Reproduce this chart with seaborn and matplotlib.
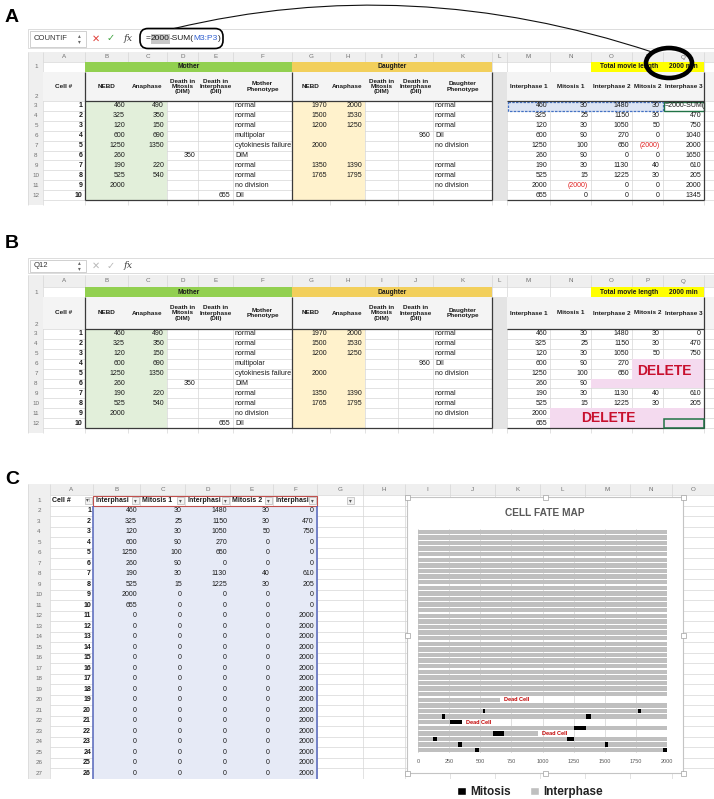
import matplotlib
matplotlib.use('Agg')
import matplotlib.pyplot as plt
import numpy as np
import pandas as pd
import seaborn as sns
from matplotlib.patches import Rectangle, FancyBboxPatch, Ellipse, PathPatch, Patch
from matplotlib.path import Path

# ---------------------------------------------------------------- data
cell_ids = [1, 2, 3, 4, 5, 6, 7, 8, 9, 10]
mother_nebd = [460, 325, 120, 600, 1250, 260, 190, 525, 2000, None]
mother_anaphase = [490, 350, 150, 690, 1350, None, 220, 540, None, None]
mother_dim = [None, None, None, None, None, 350, None, None, None, None]
mother_dii = [None, None, None, None, None, None, None, None, None, 655]
mother_phenotype = ["normal", "normal", "normal", "multipolar", "cytokinesis failure",
                    "DIM", "normal", "normal", "no division", "DII"]
daughter_nebd = [1970, 1500, 1200, None, 2000, None, 1350, 1765, None, None]
daughter_anaphase = [2000, 1530, 1250, None, None, None, 1390, 1795, None, None]
daughter_dim = [None] * 10
daughter_dii = [None, None, None, 960, None, None, None, None, None, None]
daughter_phenotype = ["normal", "normal", "normal", "DII", "no division", "",
                      "normal", "normal", "no division", ""]

# panel A: interval columns (as shown while editing)
a_interphase1 = ["460", "325", "120", "600", "1250", "260", "190", "525", "2000", "655"]
a_mitosis1 = ["30", "25", "30", "90", "100", "90", "30", "15", "(2000)", "0"]
a_interphase2 = ["1480", "1150", "1050", "270", "650", "0", "1130", "1225", "0", "0"]
a_mitosis2 = ["30", "30", "50", "0", "(2000)", "0", "40", "30", "0", "0"]
a_interphase3 = ["=2000-SUM(", "470", "750", "1040", "2000", "1650", "610", "205", "2000", "1345"]

# panel B: cleaned interval columns
b_interphase1 = ["460", "325", "120", "600", "1250", "260", "190", "525", "2000", "655"]
b_mitosis1 = ["30", "25", "30", "90", "100", "90", "30", "15", "", ""]
b_interphase2 = ["1480", "1150", "1050", "270", "650", "", "1130", "1225", "", ""]
b_mitosis2 = ["30", "30", "50", "", "", "", "40", "30", "", ""]
b_interphase3 = ["0", "470", "750", "", "", "", "610", "205", "", ""]

# panel C: table + cell fate map (40 cells)
chart_cells = list(range(1, 41))
interphase1 = [460, 325, 120, 600, 1250, 260, 190, 525, 2000, 655] + [0] * 30
mitosis1 = [30, 25, 30, 90, 100, 90, 30, 15, 0, 0] + [0] * 30
interphase2 = [1480, 1150, 1050, 270, 650, 0, 1130, 1225, 0, 0] + [0] * 30
mitosis2 = [30, 30, 50, 0, 0, 0, 40, 30, 0, 0] + [0] * 30
interphase3 = [0, 470, 750, 0, 0, 0, 610, 205, 0, 0] + [2000] * 30
dead_cells = [4, 6, 10]
x_ticks = [0, 250, 500, 750, 1000, 1250, 1500, 1750, 2000]

GREY = "#BFBFBF"
BLACK = "#000000"

# ---------------------------------------------------------------- figure
sns.set_theme(style="white")
plt.rcParams['font.family'] = ['Liberation Sans', 'DejaVu Sans']

fig = plt.figure(figsize=(7.14, 7.99), dpi=100)
bg = fig.add_axes([0, 0, 1, 1])
bg.set_xlim(0, 714)
bg.set_ylim(799, 0)
bg.axis('off')
renderer = fig.canvas.get_renderer()


def T(x, y, s, size=5, ha='center', va='center', weight='normal', color='#1A1A1A', z=6, **kw):
    return bg.text(x, y, s, fontsize=size, ha=ha, va=va, fontweight=weight, color=color,
                   zorder=z, **kw)


def R(x0, y0, x1, y1, fc='none', ec='none', lw=0.6, z=2, **kw):
    bg.add_patch(Rectangle((x0, y0), x1 - x0, y1 - y0, facecolor=fc, edgecolor=ec,
                           linewidth=lw, zorder=z, **kw))


def Ln(xs, ys, color='#D6D6D6', lw=0.5, z=1.5, **kw):
    bg.plot(xs, ys, color=color, lw=lw, zorder=z, solid_capstyle='butt', **kw)


def seq_text(x, y, parts, size):
    for s, color, hl in parts:
        t = T(x, y, s, size=size, ha='left', color=color, z=7)
        w = t.get_window_extent(renderer=renderer).width
        if hl:
            R(x - 0.3, y - 5, x + w + 0.3, y + 5, fc=hl, z=6.5)
        x += w
    return x


def fmt(v):
    return '' if v is None else str(v)


EDGES = [43, 85, 128, 167, 198, 233, 292, 330, 365, 398, 433, 492, 507, 550, 591, 632, 663, 704]
LETTERS = list("ABCDEFGHIJKLMNOPQ")


def span(letter):
    i = LETTERS.index(letter)
    return EDGES[i], EDGES[i + 1]


def formula_bar(y0, y1, name, active):
    yc = (y0 + y1) / 2
    R(28, y0, 714, y1, fc='white', ec='#CFCFCF', lw=0.5, z=1)
    R(30, y0 + 1.5, 86, y1 - 1.5, fc='white', ec='#BDBDBD', lw=0.5, z=2)
    T(34, yc, name, size=5.5, ha='left', color='#333333')
    T(79, yc - 2.6, '▴', size=4, color='#666666')
    T(79, yc + 2.6, '▾', size=4, color='#666666')
    T(96, yc, '✕', size=7, color='#E0403A' if active else '#B8B8B8')
    T(111, yc, '✓', size=7, color='#3DA33D' if active else '#B8B8B8')
    T(128, yc, 'fx', size=7, color='#444444', style='italic', family='DejaVu Serif')


def main_sheet(lt, lb, r1b, r2b, rh, variant):
    left, right = 28, 714
    ybot = r2b + 10 * rh
    # column letters
    R(left, lt, right, lb, fc='#EFEFEF', z=1)
    for i, L_ in enumerate(LETTERS):
        T((EDGES[i] + EDGES[i + 1]) / 2, (lt + lb) / 2, L_, size=4.5, color='#707070')
    # gutter
    R(left, lb, EDGES[0], ybot + 5, fc='#EFEFEF', z=1)
    T(36, (lb + r1b) / 2, '1', size=4.5, color='#707070')
    T(36, r2b - 4, '2', size=4.5, color='#707070')
    row_c = [r2b + rh * (k + 0.5) for k in range(10)]
    for k, yc in enumerate(row_c):
        T(36, yc, str(k + 3), size=4.5, color='#707070')
    # gridlines
    hys = [lb, r1b, r2b] + [r2b + rh * k for k in range(1, 11)]
    for y in hys:
        Ln([EDGES[0], right], [y, y])
    for x in EDGES + [right]:
        Ln([x, x], [lt, ybot + 5])
    Ln([left, left], [lt, ybot + 5])
    # fills
    R(EDGES[0], r1b, right, r2b, fc='#F4F4F4', z=2)
    b0, _ = span('B'); _, f1 = span('F')
    R(b0, lb, f1, r1b, fc='#92D050', z=2)
    g0, _ = span('G'); _, k1 = span('K')
    R(g0, lb, k1, r1b, fc='#F2CF5B', z=2)
    _, c1 = span('C')
    R(b0, r2b, c1, ybot, fc='#E2EFDA', z=2)
    _, h1 = span('H')
    R(g0, r2b, h1, ybot, fc='#FFF2CC', z=2)
    l0, l1 = span('L')
    R(l0, r1b, l1, ybot, fc='#E4E4E4', z=2)
    o0, _ = span('O'); _, p1 = span('P'); q0, q1 = span('Q')
    R(o0, lb, p1, r1b, fc='#FFFF00', z=2)
    R(q0, lb, q1, r1b, fc='#FFFF00', z=2)
    # row 1 text
    T((b0 + f1) / 2, (lb + r1b) / 2, 'Mother', size=4.8, weight='bold')
    T((g0 + k1) / 2, (lb + r1b) / 2, 'Daughter', size=4.8, weight='bold')
    T((o0 + p1) / 2 + 2, (lb + r1b) / 2, 'Total movie length', size=4.8, weight='bold')
    T((q0 + q1) / 2, (lb + r1b) / 2, '2000 min', size=4.8, weight='bold')
    # row 2 headers
    heads = {'A': 'Cell #', 'B': 'NEBD', 'C': 'Anaphase', 'D': 'Death in\nMitosis\n(DIM)',
             'E': 'Death in\nInterphase\n(DII)', 'F': 'Mother\nPhenotype', 'G': 'NEBD',
             'H': 'Anaphase', 'I': 'Death in\nMitosis\n(DIM)', 'J': 'Death in\nInterphase\n(DII)',
             'K': 'Daughter\nPhenotype', 'M': 'Interphase 1', 'N': 'Mitosis 1',
             'O': 'Interphase 2', 'P': 'Mitosis 2', 'Q': 'Interphase 3'}
    for L_, s in heads.items():
        x0, x1 = span(L_)
        T((x0 + x1) / 2, (r1b + r2b) / 2, s, size=4.6, weight='bold', linespacing=1.05)
    # left data
    left_cols = {'B': mother_nebd, 'C': mother_anaphase, 'D': mother_dim, 'E': mother_dii,
                 'G': daughter_nebd, 'H': daughter_anaphase, 'I': daughter_dim, 'J': daughter_dii}
    for k, yc in enumerate(row_c):
        x0, x1 = span('A')
        T(x1 - 2.5, yc, str(cell_ids[k]), size=5, ha='right', weight='bold')
        for L_, vals in left_cols.items():
            x0, x1 = span(L_)
            T(x1 - 3, yc, fmt(vals[k]), size=5, ha='right')
        x0, _ = span('F')
        T(x0 + 2, yc, mother_phenotype[k], size=5, ha='left')
        x0, _ = span('K')
        T(x0 + 2, yc, daughter_phenotype[k], size=5, ha='left')
    # right data
    if variant == 'A':
        rcols = {'M': a_interphase1, 'N': a_mitosis1, 'O': a_interphase2, 'P': a_mitosis2,
                 'Q': a_interphase3}
    else:
        rcols = {'M': b_interphase1, 'N': b_mitosis1, 'O': b_interphase2, 'P': b_mitosis2,
                 'Q': b_interphase3}
    if variant == 'A':
        m0, _ = span('M')
        R(m0 + 1, r2b + 0.5, p1, r2b + rh, fc='#DCE4F4', ec='#4472C4', lw=0.9, z=3,
          linestyle=(0, (2, 1)))
        R(q0 + 0.5, r2b + 0.5, q1 - 0.5, r2b + rh - 0.3, fc='white', ec='#217346', lw=1.0, z=3)
    else:
        pink = '#F4DAEF'
        R(span('P')[0], r2b + 3 * rh, q1, r2b + 5 * rh, fc=pink, z=3)
        R(span('O')[0], r2b + 5 * rh, q1, r2b + 6 * rh, fc=pink, z=3)
        R(span('N')[0], r2b + 8 * rh, q1, r2b + 10 * rh, fc=pink, z=3)
        R(q0 + 0.5, r2b + 9 * rh + 0.5, q1 - 0.5, r2b + 10 * rh - 0.5, fc='none',
          ec='#217346', lw=1.1, z=5)
        T((span('P')[0] + q1) / 2 - 4, r2b + 4.2 * rh, 'DELETE', size=10, weight='bold',
          color='#C8102E', z=8)
        T((span('N')[0] + span('P')[1]) / 2 + 2, r2b + 9.0 * rh, 'DELETE', size=10,
          weight='bold', color='#C8102E', z=8)
    for k, yc in enumerate(row_c):
        for L_, vals in rcols.items():
            x0, x1 = span(L_)
            s = vals[k]
            if s.startswith('='):
                T(x0 + 2, yc, s, size=5, ha='left')
            else:
                T(x1 - 3, yc, s, size=5, ha='right',
                  color='#E02020' if s.startswith('(') else '#1A1A1A')
    # dark borders
    dk = '#3A3A3A'
    Ln([b0, l0], [r2b, r2b], color=dk, lw=0.9, z=4)
    Ln([l1, q1], [r2b, r2b], color=dk, lw=0.9, z=4)
    Ln([b0, l0], [ybot, ybot], color=dk, lw=0.9, z=4)
    Ln([l1, q1], [ybot, ybot], color=dk, lw=0.9, z=4)
    for x in [b0, g0, l0, q1]:
        Ln([x, x], [r1b, ybot], color=dk, lw=0.9, z=4)


# ---------------------------------------------------------------- panel A
T(12, 18, 'A', size=14, weight='bold', color='black')
formula_bar(29, 48, 'COUNTIF', True)
seq_text(146, 38.5, [('=', '#1A1A1A', None), ('2000', '#1A1A1A', '#C8C8C8'),
                     ('-SUM(', '#1A1A1A', None), ('M3:P3', '#2F5FD0', None),
                     (')', '#1A1A1A', None)], 6)
bg.add_patch(FancyBboxPatch((140, 28.5), 83, 20, boxstyle='round,pad=0,rounding_size=8',
                            fc='none', ec='black', lw=1.2, zorder=9))
arc = Path([(174, 28.5), (410, -28), (652, 52)], [Path.MOVETO, Path.CURVE3, Path.CURVE3])
bg.add_patch(PathPatch(arc, fc='none', ec='#111111', lw=0.8, zorder=9))
main_sheet(52, 62, 72, 101, 9.9, 'A')
bg.add_patch(Ellipse((669, 63), 46, 30, fill=False, ec='black', lw=3.3, zorder=10))

# ---------------------------------------------------------------- panel B
T(12, 243, 'B', size=14, weight='bold', color='black')
formula_bar(258, 273, 'Q12', False)
main_sheet(275, 287, 297, 329, 9.9, 'B')

# ---------------------------------------------------------------- panel C sheet
T(12, 480, 'C', size=14, weight='bold', color='black')
EDGES_C = [50, 93, 140, 185, 230, 273, 317, 363, 405, 450, 495, 540, 585, 630, 672, 714]
LET_C = list("ABCDEFGHIJKLMNO")
c_lt, c_lb, c_rh, n_rows = 484, 495, 10.5, 27
c_bot = c_lb + c_rh * n_rows
R(28, c_lt, 714, c_lb, fc='#EFEFEF', z=1)
for i, L_ in enumerate(LET_C):
    T((EDGES_C[i] + EDGES_C[i + 1]) / 2, (c_lt + c_lb) / 2, L_, size=4.5, color='#707070')
R(28, c_lb, EDGES_C[0], c_bot, fc='#EFEFEF', z=1)
for r in range(n_rows + 1):
    y = c_lb + c_rh * r
    Ln([EDGES_C[0], 714], [y, y])
for x in EDGES_C:
    Ln([x, x], [c_lt, c_bot])
Ln([28, 28], [c_lt, c_bot])
R(EDGES_C[1], c_lb + c_rh, EDGES_C[6], c_bot, fc='#E6EAF6', z=2)
for r in range(1, n_rows + 1):
    yc = c_lb + c_rh * (r - 0.5)
    T(39, yc, str(r), size=4.5, color='#707070')
hdr_y = c_lb + c_rh * 0.5
T(EDGES_C[0] + 2, hdr_y, 'Cell #', size=5, ha='left', weight='bold')
for i, s in enumerate(['Interphasi', 'Mitosis 1', 'Interphasi', 'Mitosis 2', 'Interphasi']):
    T(EDGES_C[i + 1] + 2, hdr_y, s, size=5, ha='left', weight='bold')


def dropdown(xr, yc, sym='▾'):
    R(xr - 8, yc - 3.6, xr - 1.2, yc + 3.6, fc='#F2F2F2', ec='#A8A8A8', lw=0.4, z=4)
    T(xr - 4.6, yc, sym, size=4, color='#555555', z=5)


dropdown(EDGES_C[1], hdr_y, '▾↑')
for i in range(2, 7):
    dropdown(EDGES_C[i], hdr_y)
dropdown(EDGES_C[7] - 8, hdr_y)
R(EDGES_C[1], c_lb + 0.5, EDGES_C[6], c_lb + c_rh, fc='none', ec='#C0504D', lw=0.8, z=4)
for x in [EDGES_C[1], EDGES_C[6]]:
    Ln([x, x], [c_lb + c_rh, c_bot], color='#5566BB', lw=1.1, z=4)
c_cols = [interphase1, mitosis1, interphase2, mitosis2, interphase3]
for r in range(2, n_rows + 1):
    k = r - 2
    yc = c_lb + c_rh * (r - 0.5)
    T(EDGES_C[1] - 2, yc, str(chart_cells[k]), size=5, ha='right', weight='bold')
    for j, vals in enumerate(c_cols):
        T(EDGES_C[j + 2] - 3, yc, str(vals[k]), size=5, ha='right')
R(0, 779, 714, 799, fc='white', z=9)

# chart frame
R(407, 497, 683, 773, fc='white', ec='#C4C4C4', lw=0.8, z=10)
for hx in [407, 545, 683]:
    for hy in [497, 635, 773]:
        if hx == 545 and hy == 635:
            continue
        R(hx - 2.5, hy - 2.5, hx + 2.5, hy + 2.5, fc='white', ec='#A0A0A0', lw=0.5, z=11)
T(545, 513, 'CELL FATE MAP', size=7.3, weight='bold', color='#595959', z=12)

# ---------------------------------------------------------------- cell fate map (seaborn)
axc = fig.add_axes([418 / 714, 1 - 753 / 799, (667 - 418) / 714, (753 - 529) / 799])
axc.set_facecolor('white')
stage_cols = ['Interphase 1', 'Mitosis 1', 'Interphase 2', 'Mitosis 2', 'Interphase 3']
stage_colors = [GREY, BLACK, GREY, BLACK, GREY]
chart_df = pd.DataFrame({'Cell': [str(c) for c in chart_cells],
                         'Interphase 1': interphase1, 'Mitosis 1': mitosis1,
                         'Interphase 2': interphase2, 'Mitosis 2': mitosis2,
                         'Interphase 3': interphase3})
cum = chart_df[stage_cols].cumsum(axis=1)
cum['Cell'] = chart_df['Cell']
order = chart_df['Cell'].tolist()[::-1]
for col, colr in zip(stage_cols[::-1], stage_colors[::-1]):
    sns.barplot(data=cum, x=col, y='Cell', order=order, orient='h', color=colr,
                saturation=1, errorbar=None, width=0.78, linewidth=0, ax=axc)
for c in dead_cells:
    row = order.index(str(c))
    end = cum.loc[cum['Cell'] == str(c), 'Interphase 3'].iloc[0]
    axc.text(end + 35, row, 'Dead Cell', color='#C00000', fontsize=4, fontweight='bold',
             va='center', ha='left')
axc.set_xlim(0, 2000)
axc.set_ylim(len(order) - 0.5, -0.5)
axc.set_xticks(x_ticks)
axc.set_xticklabels([str(t) for t in x_ticks])
axc.tick_params(axis='x', labelsize=4, colors='#595959', length=0, pad=4)
axc.set_yticks([])
axc.set_xlabel('')
axc.set_ylabel('')
axc.xaxis.grid(True, color='#D9D9D9', lw=0.6)
axc.set_axisbelow(True)
for sp in axc.spines.values():
    sp.set_visible(False)

handles = [Patch(facecolor=BLACK, label='Mitosis'), Patch(facecolor=GREY, label='Interphase')]
axc.legend(handles=handles, loc='center', bbox_to_anchor=(530 / 714, 1 - 792 / 799),
           bbox_transform=fig.transFigure, ncol=2, frameon=False,
           prop={'size': 8.5, 'weight': 'bold'}, handlelength=0.75, handleheight=0.75,
           columnspacing=1.6, handletextpad=0.4, labelcolor='#222222')

fig.savefig('out.png', dpi=100)
